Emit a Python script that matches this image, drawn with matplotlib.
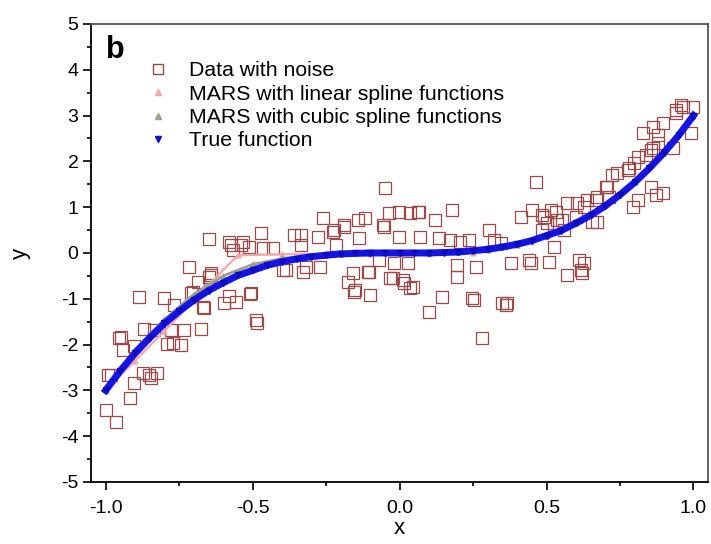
import numpy as np
import matplotlib
matplotlib.use('Agg')
import matplotlib.pyplot as plt
from matplotlib.ticker import MultipleLocator
from matplotlib.lines import Line2D

plt.rcParams['font.family'] = ['Liberation Sans', 'DejaVu Sans']
plt.rcParams['axes.unicode_minus'] = False

# noisy samples
data_x = [-1.00, -0.966, -0.918, -0.983, -0.905, -0.847, -0.827, -0.874, -0.949, -0.942,
          -0.905, -0.871, -0.837, -0.790, -0.745, -0.779, -0.735, -0.677, -0.888, -0.803,
          -0.769, -0.711, -0.667, -0.599, -0.558, -0.510, -0.486, -0.718, -0.687, -0.643,
          -0.580, -0.395, -0.330, -0.270, -0.177, -0.156, -0.993, -0.956, -0.854, -0.772,
          -0.704, -0.650, -0.575, -0.540, -0.473, -0.643, -0.337, -0.259, -0.224, -0.190,
          -0.143, -0.279, -0.228, -0.139, -0.218, -0.337, -0.320, -0.160, -0.109, -0.099,
          -0.024, -0.020, -0.071, -0.190, -0.058, -0.037, -0.580, -0.534, -0.432, -0.360,
          -0.388, -0.507, -0.650, -0.670, -0.490, -0.568, -0.514, -0.466, -0.048, -0.116,
          -0.054, -0.003, 0.037, 0.065, 0.122, 0.180, -0.003, 0.071, 0.133, 0.207,
          0.303, 0.235, 0.320, 0.173, 0.099, 0.146, 0.252, 0.361, 0.282, -0.150,
          -0.031, 0.037, 0.014, 0.197, 0.259, 0.197, 0.010, 0.044, -0.105, 0.027,
          0.061, 0.248, 0.350, 0.463, 0.412, 0.452, 0.490, 0.537, 0.514, 0.571,
          0.605, 0.639, 0.673, 0.558, 0.486, 0.626, 0.616, 0.446, 0.507, 0.378,
          0.571, 0.622, 0.344, 0.524, 0.439, 0.367, 0.486, 0.531, 0.626, 0.667,
          0.503, 0.554, 0.656, 0.599, 0.609, 0.707, 0.741, 0.776, 0.810, 0.827,
          0.864, 0.898, 0.939, 0.966, 1.000, 0.990, 0.898, 0.854, 0.810, 0.793,
          0.854, 0.878, 0.796, 0.956, 0.939, 0.878, 0.864, 0.929, 0.837, 0.779,
          0.724, 0.701, 0.711, 0.871, 0.673]
data_y = [-3.43, -3.69, -3.17, -2.66, -2.84, -2.73, -2.62, -2.62, -1.83, -2.12,
          -2.03, -1.66, -1.68, -1.99, -2.01, -1.68, -1.68, -1.66, -0.96, -0.98,
          -1.13, -0.88, -1.20, -1.09, -1.07, -0.90, -1.53, -0.30, -0.63, -0.48,
          -0.95, -0.37, -0.41, -0.30, -0.63, -0.85, -2.66, -1.86, -2.66, -1.97,
          -0.85, 0.30, 0.17, 0.17, 0.43, -0.44, 0.40, 0.76, 0.50, 0.57,
          0.72, 0.35, 0.46, 0.33, 0.17, 0.17, -0.30, -0.44, -0.41, -0.92,
          -0.55, -0.22, -0.15, 0.61, 0.61, 0.87, 0.24, 0.24, 0.11, 0.39,
          -0.37, -0.87, -0.52, -1.18, -1.46, 0.07, 0.13, 0.11, 1.42, 0.76,
          0.57, 0.90, 0.87, 0.90, 0.72, 0.94, 0.35, 0.35, 0.33, 0.24,
          0.50, 0.28, 0.28, 0.28, -1.29, -0.96, -1.03, -1.13, -1.86, -0.81,
          -0.55, -0.76, -0.66, -0.52, -0.30, -0.26, -0.59, -0.74, -0.41, -0.22,
          0.90, -0.98, -1.09, 1.55, 0.79, 0.94, 0.79, 0.72, 0.94, 1.09,
          1.09, 1.16, 1.22, 0.50, 0.50, -0.22, -0.37, -0.22, -0.20, -0.22,
          -0.48, -0.44, 0.22, 0.13, -0.15, -1.09, 0.83, 0.90, 1.00, 1.16,
          0.66, 0.72, 0.68, 0.79, -0.15, 1.44, 1.75, 1.81, 2.10, 2.62,
          2.75, 2.84, 3.12, 3.19, 3.19, 2.62, 1.31, 1.44, 1.16, 1.00,
          2.25, 2.40, 1.96, 3.23, 3.06, 2.58, 2.29, 2.29, 2.14, 1.86,
          1.70, 1.44, 1.22, 1.27, 0.68]

# MARS fit with linear splines
lin_x = [-1.00, -0.90, -0.80, -0.70, -0.62, -0.55, -0.40, -0.25, -0.10, 0.00,
         0.10, 0.25, 0.40, 0.50, 0.60, 0.70, 0.80, 0.90, 1.00]
lin_y = [-3.00, -2.35, -1.70, -1.05, -0.50, -0.05, -0.03, -0.02, -0.02, -0.02,
         -0.02, 0.00, 0.22, 0.40, 0.70, 1.05, 1.55, 2.25, 3.05]

# MARS fit with cubic splines
cub_x = [-1.00, -0.90, -0.80, -0.70, -0.60, -0.50, -0.40, -0.30, -0.20, -0.10,
         0.00, 0.10, 0.20, 0.30, 0.40, 0.50, 0.60, 0.70, 0.80, 0.90, 1.00]
cub_y = [-3.00, -2.10, -1.45, -0.90, -0.50, -0.25, -0.12, -0.06, -0.03, 0.00,
         0.00, 0.00, 0.02, 0.07, 0.18, 0.38, 0.66, 1.05, 1.55, 2.20, 3.00]

# true function
true_x = [-1.00, -0.95, -0.90, -0.85, -0.80, -0.75, -0.70, -0.65, -0.60, -0.55,
          -0.50, -0.45, -0.40, -0.35, -0.30, -0.25, -0.20, -0.15, -0.10, -0.05,
          0.00, 0.05, 0.10, 0.15, 0.20, 0.25, 0.30, 0.35, 0.40, 0.45,
          0.50, 0.55, 0.60, 0.65, 0.70, 0.75, 0.80, 0.85, 0.90, 0.95, 1.00]
true_y = [-3.00, -2.57, -2.19, -1.85, -1.54, -1.27, -1.03, -0.82, -0.65, -0.49,
          -0.38, -0.27, -0.19, -0.13, -0.08, -0.05, -0.02, -0.01, 0.00, 0.00,
          0.00, 0.00, 0.00, 0.01, 0.02, 0.05, 0.08, 0.13, 0.19, 0.27,
          0.38, 0.49, 0.65, 0.82, 1.03, 1.27, 1.54, 1.85, 2.19, 2.57, 3.00]

c_data = '#9a4848'
c_lin = '#f4a6a6'
c_cub = '#a0a088'
c_true = '#1414e6'

fig = plt.figure(figsize=(7.11, 5.44), dpi=100)
ax = fig.add_axes([0.128, 0.114, 0.868, 0.842])

ax.plot(data_x, data_y, 's', ms=8.5, mfc='none', mec=c_data, mew=0.9)
ax.plot(lin_x, lin_y, '-^', color=c_lin, lw=1.6, ms=3.5)
ax.plot(cub_x, cub_y, '-^', color=c_cub, lw=2.0, ms=3.5)
ax.plot(true_x, true_y, '-', color=c_true, lw=5, zorder=4)
ax.plot(true_x, true_y, 'v', color='#0c0cc0', ms=4, zorder=5)

ax.set_xlim(-1.05, 1.05)
ax.set_ylim(-5, 5)
ax.xaxis.set_major_locator(MultipleLocator(0.5))
ax.xaxis.set_minor_locator(MultipleLocator(0.25))
ax.yaxis.set_major_locator(MultipleLocator(1))
ax.yaxis.set_minor_locator(MultipleLocator(0.5))
ax.tick_params(which='both', direction='out', top=False, right=False,
               labelsize=14, width=1.2, pad=3)
ax.tick_params(axis='x', which='both', pad=7)
ax.tick_params(which='major', length=6)
ax.tick_params(which='minor', length=3)
for s in ax.spines.values():
    s.set_linewidth(1.3)
ax.spines['top'].set_color('#555555')
ax.spines['right'].set_color('#555555')

ax.set_xlabel('x', fontsize=16, labelpad=1)
ax.set_ylabel('y', fontsize=16, labelpad=22)
ax.text(0.04, 0.943, 'b', transform=ax.transAxes, fontsize=22,
        fontweight='bold', ha='center', va='center')

handles = [
    Line2D([], [], ls='none', marker='s', ms=7, mfc='none', mec=c_data, mew=1.0),
    Line2D([], [], ls='none', marker='^', ms=5, color=c_lin),
    Line2D([], [], ls='none', marker='^', ms=5, color=c_cub),
    Line2D([], [], ls='none', marker='v', ms=5, color='#1010d0'),
]
labels = ['Data with noise', 'MARS with linear spline functions',
          'MARS with cubic spline functions', 'True function']
ax.legend(handles, labels, loc='upper left', bbox_to_anchor=(0.092, 0.918),
          frameon=False, fontsize=15.3, handlelength=1.0, handletextpad=0.92,
          labelspacing=0.2, borderaxespad=0, borderpad=0)

fig.savefig('out.png', dpi=100)
